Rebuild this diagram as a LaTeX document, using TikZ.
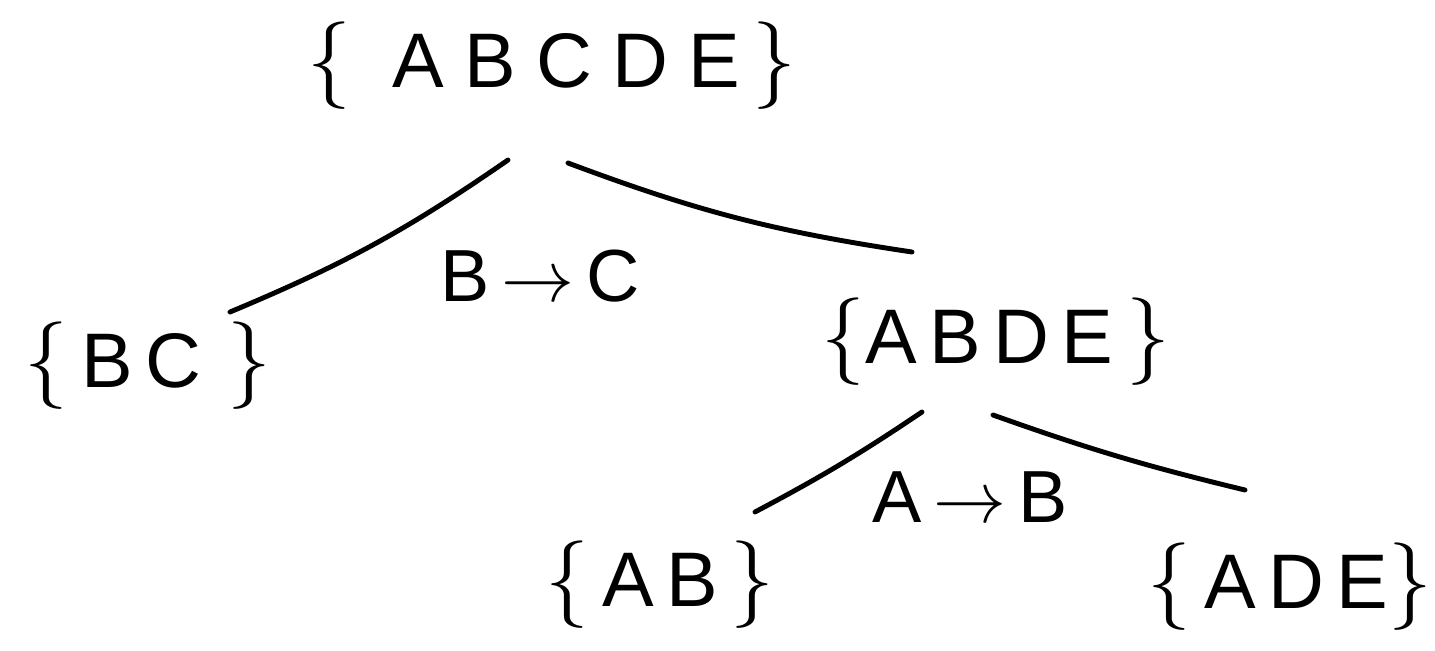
\documentclass[tikz,border=0pt]{standalone}
\usepackage{fontspec}
\setmainfont{Liberation Sans}
\newfontfamily\hand[LetterSpace=16]{Liberation Sans}
\newfontfamily\handwide[LetterSpace=26]{Liberation Sans}
\newcommand\lbr{{\fontsize{32}{32}\selectfont$\{$}}
\newcommand\rbr{{\fontsize{32}{32}\selectfont$\}$}}
\begin{document}
\begin{tikzpicture}[x=0.01cm,y=-0.01cm,
  setnode/.style={font=\hand\fontsize{22}{26}\selectfont, inner sep=0pt},
  rootnode/.style={font=\handwide\fontsize{22}{26}\selectfont, inner sep=0pt},
  lbl/.style={font=\hand\fontsize{21}{26}\selectfont, inner sep=0pt},
  edge/.style={line width=1.4pt, line cap=round}]
\useasboundingbox (0,0) rectangle (1435,651);
\node[rootnode] (root) at (552,66) {\lbr\ ABCDE\,\rbr};
\node[setnode] (bc) at (148,366) {\lbr\,BC\,\,\rbr};
\node[setnode] (abde) at (996,342) {\lbr ABDE\,\rbr};
\node[setnode] (ab) at (660,585) {\lbr\,AB\,\rbr};
\node[setnode] (ade) at (1290,587) {\lbr\,ADE\rbr};
\node[lbl] (l1) at (540,276) {B$\,\rightarrow\,$C};
\node[lbl] (l2) at (970,497) {A$\,\rightarrow\,$B};
\coordinate (e1a) at (508,160);
\coordinate (e1b) at (230,312);
\coordinate (e2a) at (568,163);
\coordinate (e2b) at (912,252);
\coordinate (e3a) at (922,412);
\coordinate (e3b) at (755,512);
\coordinate (e4a) at (993,415);
\coordinate (e4b) at (1245,490);
\draw[edge] (e1a) to[bend left=6] (e1b);
\draw[edge] (e2a) to[bend right=6] (e2b);
\draw[edge] (e3a) to[bend left=3] (e3b);
\draw[edge] (e4a) to[bend right=3] (e4b);
\end{tikzpicture}
\end{document}
